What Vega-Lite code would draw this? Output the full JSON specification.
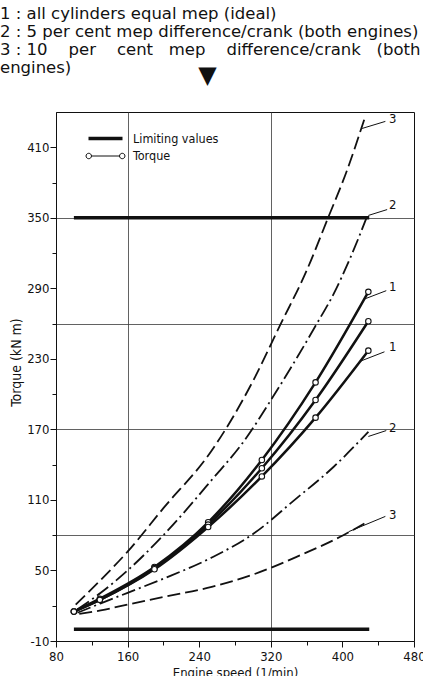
{
  "$schema": "https://vega.github.io/schema/vega-lite/v6.json",
  "width": 358,
  "height": 529,
  "autosize": {"type": "none"},
  "padding": {"left": 56, "top": 112, "right": 9, "bottom": 35},
  "background": "white",
  "title": {
    "text": [
      "1 : all cylinders equal mep (ideal)",
      "2 : 5 per cent mep difference/crank (both engines)",
      "3 : 10\u00a0\u00a0\u00a0 per\u00a0\u00a0\u00a0 cent\u00a0\u00a0 mep\u00a0\u00a0\u00a0 difference/crank\u00a0\u00a0 (both",
      "engines)"
    ],
    "subtitle": "\u200b\u00a0\u00a0\u00a0\u00a0\u00a0\u00a0\u00a0\u00a0\u00a0\u00a0\u00a0\u00a0\u00a0\u00a0\u00a0\u00a0\u00a0\u00a0\u00a0\u00a0\u00a0\u00a0\u00a0\u00a0\u00a0\u00a0▼",
    "anchor": "start",
    "frame": "group",
    "dx": -56,
    "font": "DejaVu Sans",
    "fontSize": 16.5,
    "fontWeight": "normal",
    "lineHeight": 18,
    "color": "#111",
    "subtitleFont": "DejaVu Sans",
    "subtitleFontSize": 24,
    "subtitleColor": "#111",
    "subtitlePadding": -12,
    "offset": 24
  },
  "datasets": {
    "limits": [
      {"line": "upper", "kind": "Limiting values", "speed": 100, "torque": 350},
      {"line": "upper", "kind": "Limiting values", "speed": 430, "torque": 350},
      {"line": "lower", "kind": "Limiting values", "speed": 100, "torque": 0},
      {"line": "lower", "kind": "Limiting values", "speed": 430, "torque": 0}
    ],
    "curves": [
      {"curve": "1a", "kind": "Torque", "speed": 100, "torque": 15},
      {"curve": "1a", "kind": "Torque", "speed": 129, "torque": 26},
      {"curve": "1a", "kind": "Torque", "speed": 190, "torque": 53},
      {"curve": "1a", "kind": "Torque", "speed": 250, "torque": 91},
      {"curve": "1a", "kind": "Torque", "speed": 310, "torque": 144},
      {"curve": "1a", "kind": "Torque", "speed": 370, "torque": 210},
      {"curve": "1a", "kind": "Torque", "speed": 429, "torque": 287},
      {"curve": "1b", "kind": "Torque", "speed": 100, "torque": 15},
      {"curve": "1b", "kind": "Torque", "speed": 129, "torque": 25},
      {"curve": "1b", "kind": "Torque", "speed": 190, "torque": 52},
      {"curve": "1b", "kind": "Torque", "speed": 250, "torque": 89},
      {"curve": "1b", "kind": "Torque", "speed": 310, "torque": 137},
      {"curve": "1b", "kind": "Torque", "speed": 370, "torque": 195},
      {"curve": "1b", "kind": "Torque", "speed": 429, "torque": 262},
      {"curve": "1c", "kind": "Torque", "speed": 100, "torque": 15},
      {"curve": "1c", "kind": "Torque", "speed": 129, "torque": 25},
      {"curve": "1c", "kind": "Torque", "speed": 190, "torque": 51},
      {"curve": "1c", "kind": "Torque", "speed": 250, "torque": 87},
      {"curve": "1c", "kind": "Torque", "speed": 310, "torque": 130},
      {"curve": "1c", "kind": "Torque", "speed": 370, "torque": 180},
      {"curve": "1c", "kind": "Torque", "speed": 429, "torque": 237}
    ],
    "dashed": [
      {"curve": "3u", "style": "3", "speed": 102, "torque": 21},
      {"curve": "3u", "style": "3", "speed": 130, "torque": 42},
      {"curve": "3u", "style": "3", "speed": 160, "torque": 66},
      {"curve": "3u", "style": "3", "speed": 200, "torque": 103},
      {"curve": "3u", "style": "3", "speed": 254, "torque": 152},
      {"curve": "3u", "style": "3", "speed": 300, "torque": 211},
      {"curve": "3u", "style": "3", "speed": 330, "torque": 258},
      {"curve": "3u", "style": "3", "speed": 360, "torque": 305},
      {"curve": "3u", "style": "3", "speed": 384, "torque": 350},
      {"curve": "3u", "style": "3", "speed": 405, "torque": 390},
      {"curve": "3u", "style": "3", "speed": 425, "torque": 435},
      {"curve": "2u", "style": "2", "speed": 104, "torque": 17},
      {"curve": "2u", "style": "2", "speed": 130, "torque": 31},
      {"curve": "2u", "style": "2", "speed": 160, "torque": 50},
      {"curve": "2u", "style": "2", "speed": 200, "torque": 80},
      {"curve": "2u", "style": "2", "speed": 254, "torque": 127},
      {"curve": "2u", "style": "2", "speed": 290, "torque": 160},
      {"curve": "2u", "style": "2", "speed": 321, "torque": 196},
      {"curve": "2u", "style": "2", "speed": 350, "torque": 232},
      {"curve": "2u", "style": "2", "speed": 373, "torque": 262},
      {"curve": "2u", "style": "2", "speed": 388, "torque": 282},
      {"curve": "2u", "style": "2", "speed": 410, "torque": 318},
      {"curve": "2u", "style": "2", "speed": 429, "torque": 354},
      {"curve": "2l", "style": "2", "speed": 104, "torque": 14},
      {"curve": "2l", "style": "2", "speed": 130, "torque": 22},
      {"curve": "2l", "style": "2", "speed": 160, "torque": 31},
      {"curve": "2l", "style": "2", "speed": 200, "torque": 43},
      {"curve": "2l", "style": "2", "speed": 254, "torque": 61},
      {"curve": "2l", "style": "2", "speed": 302, "torque": 82},
      {"curve": "2l", "style": "2", "speed": 345, "torque": 109},
      {"curve": "2l", "style": "2", "speed": 390, "torque": 138},
      {"curve": "2l", "style": "2", "speed": 429, "torque": 168},
      {"curve": "3l", "style": "3", "speed": 106, "torque": 13},
      {"curve": "3l", "style": "3", "speed": 130, "torque": 16},
      {"curve": "3l", "style": "3", "speed": 160, "torque": 21},
      {"curve": "3l", "style": "3", "speed": 200, "torque": 27.5},
      {"curve": "3l", "style": "3", "speed": 254, "torque": 36},
      {"curve": "3l", "style": "3", "speed": 302, "torque": 47},
      {"curve": "3l", "style": "3", "speed": 350, "torque": 62},
      {"curve": "3l", "style": "3", "speed": 401, "torque": 80},
      {"curve": "3l", "style": "3", "speed": 427, "torque": 91}
    ],
    "leaders": [
      {"speed": 422, "torque": 426, "speed2": 448, "torque2": 432},
      {"speed": 429, "torque": 352, "speed2": 450, "torque2": 357},
      {"speed": 425, "torque": 281, "speed2": 449, "torque2": 288},
      {"speed": 420, "torque": 228, "speed2": 447, "torque2": 236},
      {"speed": 429, "torque": 164, "speed2": 449, "torque2": 169},
      {"speed": 407, "torque": 83, "speed2": 448, "torque2": 96}
    ],
    "labeltext": [
      {"text": "3", "speed": 452, "torque": 434},
      {"text": "2", "speed": 452, "torque": 361},
      {"text": "1", "speed": 452, "torque": 291},
      {"text": "1", "speed": 452, "torque": 240},
      {"text": "2", "speed": 452, "torque": 171},
      {"text": "3", "speed": 452, "torque": 97}
    ]
  },
  "encoding": {
    "x": {
      "field": "speed",
      "type": "quantitative",
      "scale": {"domain": [80, 480], "nice": false, "zero": false},
      "axis": {
        "values": [80, 120, 160, 200, 240, 280, 320, 360, 400, 440, 480],
        "labelExpr": "datum.value % 80 === 0 ? '' + datum.value : ''",
        "tickSize": {"condition": {"test": "datum.value % 80 === 0", "value": 6}, "value": 4},
        "grid": true,
        "gridOpacity": {"condition": {"test": "datum.value === 160 || datum.value === 320", "value": 1}, "value": 0},
        "labelFlush": false,
        "labelOverlap": false,
        "labelPadding": 3,
        "titlePadding": 3,
        "title": "Engine speed (1/min)"
      }
    },
    "y": {
      "field": "torque",
      "type": "quantitative",
      "scale": {"domain": [-10, 440], "nice": false, "zero": false},
      "axis": {
        "values": [-10, 20, 50, 80, 110, 140, 170, 200, 230, 260, 290, 320, 350, 380, 410],
        "labelExpr": "(datum.value + 10) % 60 === 0 ? '' + datum.value : ''",
        "tickSize": {"condition": {"test": "(datum.value + 10) % 60 === 0", "value": 6}, "value": 4},
        "grid": true,
        "gridOpacity": {"condition": {"test": "(datum.value + 10) % 90 === 0 && datum.value > 0", "value": 1}, "value": 0},
        "labelFlush": false,
        "labelOverlap": false,
        "labelPadding": 1,
        "title": "Torque (kN m)",
        "titleX": -36,
        "titleY": 250,
        "titleBaseline": "alphabetic",
        "titleAlign": "center",
        "titleAngle": -90,
        "titleFontSize": 14
      }
    }
  },
  "layer": [
    {
      "data": {"name": "limits"},
      "mark": {"type": "line", "color": "#111", "strokeCap": "butt"},
      "encoding": {
        "detail": {"field": "line"},
        "strokeWidth": {
          "field": "kind",
          "type": "ordinal",
          "scale": {"type": "ordinal", "domain": ["Limiting values", "Torque"], "range": [3.5, 1.0]},
          "legend": {
            "orient": "none",
            "legendX": 39,
            "legendY": 16,
            "title": null,
            "padding": 0,
            "symbolSize": 289,
            "symbolType": "stroke",
            "symbolStrokeColor": "#111",
            "labelOffset": 17,
            "labelFont": "DejaVu Sans Condensed, DejaVu Sans",
            "labelFontSize": 12.5,
            "labelColor": "#111",
            "rowPadding": 1,
            "encode": {
              "symbols": {
                "update": {
                  "shape": {"signal": "datum.label === 'Torque' ? 'M-1.65,0H1.65M-1.65,0A0.32,0.32 0 1,1 -2.29,0A0.32,0.32 0 1,1 -1.65,0M2.29,0A0.32,0.32 0 1,1 1.65,0A0.32,0.32 0 1,1 2.29,0' : 'M-2,0H2'"}
                }
              }
            }
          }
        }
      }
    },
    {
      "data": {"name": "curves"},
      "mark": {"type": "line", "color": "#111", "interpolate": "monotone"},
      "encoding": {
        "detail": {"field": "curve"},
        "strokeWidth": {"field": "kind", "type": "ordinal"}
      }
    },
    {
      "data": {"name": "curves"},
      "mark": {"type": "point", "shape": "circle", "filled": true, "fill": "white", "stroke": "#111", "strokeWidth": 1.1, "size": 30, "opacity": 1}
    },
    {
      "data": {"name": "dashed"},
      "mark": {"type": "line", "color": "#111", "interpolate": "monotone", "strokeWidth": 1.8},
      "encoding": {
        "detail": {"field": "curve"},
        "strokeDash": {
          "field": "style",
          "type": "nominal",
          "scale": {"domain": ["2", "3"], "range": [[14, 4, 2, 4], [13, 5]]},
          "legend": null
        }
      }
    },
    {
      "data": {"name": "leaders"},
      "mark": {"type": "rule", "color": "#111", "strokeWidth": 1},
      "encoding": {
        "x2": {"field": "speed2"},
        "y2": {"field": "torque2"}
      }
    },
    {
      "data": {"name": "labeltext"},
      "mark": {"type": "text", "align": "left", "baseline": "middle", "fontSize": 13, "font": "DejaVu Sans Condensed, DejaVu Sans", "color": "#111"},
      "encoding": {
        "text": {"field": "text"}
      }
    }
  ],
  "config": {
    "view": {"stroke": "#111", "strokeWidth": 1},
    "axis": {
      "domainColor": "#111",
      "tickColor": "#111",
      "labelColor": "#111",
      "titleColor": "#111",
      "gridColor": "#3a3a3a",
      "gridWidth": 0.8,
      "labelFont": "DejaVu Sans Condensed, DejaVu Sans",
      "labelFontSize": 13,
      "titleFont": "DejaVu Sans Condensed, DejaVu Sans",
      "titleFontSize": 13,
      "titleFontWeight": "normal"
    }
  }
}
